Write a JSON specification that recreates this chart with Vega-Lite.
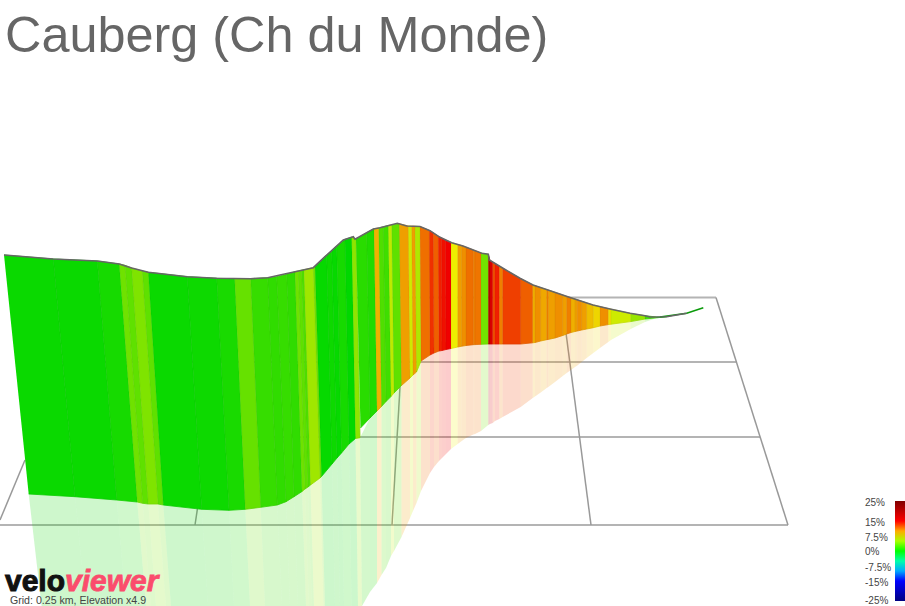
{
  "$schema": "https://vega.github.io/schema/vega-lite/v6.json",
  "autosize": {"type": "none"},
  "width": 905,
  "height": 606,
  "padding": 0,
  "background": "white",
  "config": {"view": {"stroke": null}},
  "datasets": {
    "strips": [
      {"s":1,"g":0.3,"i":[0,1,2,3],"x":[4,53.3,75,28.7],"y":[255,259,496.7,494],"fx":[28.7,75,86,41.6],"fy":[494,496.7,606,606]},
      {"s":2,"g":0.3,"i":[0,1,2,3],"x":[53.3,97.3,116.7,75],"y":[259,261,500,496.7],"fx":[75,116.7,126,86],"fy":[496.7,500,606,606]},
      {"s":3,"g":0.7,"i":[0,1,2,3],"x":[97.3,119.3,137.3,116.7],"y":[261,264,502,500],"fx":[116.7,137.3,146,126],"fy":[500,502,606,606]},
      {"s":4,"g":3.5,"i":[0,1,2,3],"x":[119.3,125,142.7,137.3],"y":[264,265.3,503.3,502],"fx":[137.3,142.7,151,146],"fy":[502,503.3,606,606]},
      {"s":5,"g":3,"i":[0,1,2,3],"x":[125,131.7,148.3,142.7],"y":[265.3,268,504,503.3],"fx":[142.7,148.3,156,151],"fy":[503.3,504,606,606]},
      {"s":6,"g":4,"i":[0,1,2,3],"x":[131.7,142.3,158,148.3],"y":[268,271,504,504],"fx":[148.3,158,166,156],"fy":[504,504,606,606]},
      {"s":7,"g":3,"i":[0,1,2,3],"x":[142.3,148.3,163.3,158],"y":[271,272.3,505,504],"fx":[158,163.3,171,166],"fy":[504,505,606,606]},
      {"s":8,"g":0.3,"i":[0,1,2,3],"x":[148.3,187.3,201.7,163.3],"y":[272.3,276.7,509.3,505],"fx":[163.3,201.7,208,171],"fy":[505,509.3,606,606]},
      {"s":9,"g":0.4,"i":[0,1,2,3],"x":[187.3,216.7,229,201.7],"y":[276.7,278.3,510.3,509.3],"fx":[201.7,229,234,208],"fy":[509.3,510.3,606,606]},
      {"s":10,"g":0.8,"i":[0,1,2,3],"x":[216.7,234.7,245.3,229],"y":[278.3,278.7,509.3,510.3],"fx":[229,245.3,250,234],"fy":[510.3,509.3,606,606]},
      {"s":11,"g":3.2,"i":[0,1,2,3],"x":[234.7,250.7,260.7,245.3],"y":[278.7,278.7,507.3,509.3],"fx":[245.3,260.7,265,250],"fy":[509.3,507.3,606,606]},
      {"s":12,"g":1.7,"i":[0,1,2,3],"x":[250.7,267.7,277.3,260.7],"y":[278.7,277.7,505,507.3],"fx":[260.7,277.3,282,265],"fy":[507.3,505,606,606]},
      {"s":13,"g":1.5,"i":[0,1,2,3],"x":[267.7,276.7,286,277.3],"y":[277.7,276.7,501.7,505],"fx":[277.3,286,290,282],"fy":[505,501.7,606,606]},
      {"s":14,"g":1.7,"i":[0,1,2,3],"x":[276.7,286.7,294,286],"y":[276.7,274.3,496.7,501.7],"fx":[286,294,298,290],"fy":[501.7,496.7,606,606]},
      {"s":15,"g":1.5,"i":[0,1,2,3],"x":[286.7,295,302,294],"y":[274.3,271.7,491.5,496.7],"fx":[294,302,306,298],"fy":[496.7,491.5,606,606]},
      {"s":16,"g":3.5,"i":[0,1,2,3],"x":[295,298.3,305,302],"y":[271.7,271,489,491.5],"fx":[302,305,309,306],"fy":[491.5,489,606,606]},
      {"s":17,"g":3,"i":[0,1,2,3],"x":[298.3,301.7,308,305],"y":[271,270.2,487,489],"fx":[305,308,312,309],"fy":[489,487,606,606]},
      {"s":18,"g":2.5,"i":[0,1,2,3],"x":[301.7,304,310.5,308],"y":[270.2,269.7,485,487],"fx":[308,310.5,314,312],"fy":[487,485,606,606]},
      {"s":19,"g":5,"i":[0,1,2,3],"x":[304,313.3,320,310.5],"y":[269.7,267.7,478,485],"fx":[310.5,320,323.5,314],"fy":[485,478,606,606]},
      {"s":20,"g":3.5,"i":[0,1,2,3],"x":[313.3,315,321.5,320],"y":[267.7,266,476.5,478],"fx":[320,321.5,325,323.5],"fy":[478,476.5,606,606]},
      {"s":21,"g":0.2,"i":[0,1,2,3],"x":[315,326.7,332,321.5],"y":[266,255,464,476.5],"fx":[321.5,332,335,325],"fy":[476.5,464,606,606]},
      {"s":22,"g":0.4,"i":[0,1,2,3],"x":[326.7,331.7,337,332],"y":[255,250.5,458,464],"fx":[332,337,340,335],"fy":[464,458,606,606]},
      {"s":23,"g":0.2,"i":[0,1,2,3],"x":[331.7,336.7,341.5,337],"y":[250.5,246,453,458],"fx":[337,341.5,344,340],"fy":[458,453,606,606]},
      {"s":24,"g":0.7,"i":[0,1,2,3],"x":[336.7,345,349,341.5],"y":[246,239.4,444,453],"fx":[341.5,349,351.5,344],"fy":[453,444,606,606]},
      {"s":25,"g":0,"i":[0,1,2,3],"x":[345,351.7,355.5,349],"y":[239.4,237.2,438.5,444],"fx":[349,355.5,358,351.5],"fy":[444,438.5,606,606]},
      {"s":26,"g":4.5,"i":[0,1,2,3],"x":[351.7,356,360,355.5],"y":[237.2,239,437.7,438.5],"fx":[355.5,360,362,358],"fy":[438.5,437.7,606,606]},
      {"s":27,"g":1.3,"i":[0,1,2,3],"x":[356,366.7,370,360.5],"y":[239,232.7,418,428],"fx":[360,370,370,362],"fy":[437.7,418,592,606]},
      {"s":28,"g":1,"i":[0,1,2,3],"x":[366.7,374,377,370],"y":[232.7,228.8,411,418],"fx":[370,377,377,370],"fy":[418,411,583,592]},
      {"s":29,"g":9.4,"i":[0,1,2,3],"x":[374,378.7,381.5,377],"y":[228.8,228,406.5,411],"fx":[377,381.5,381.5,377],"fy":[411,406.5,575,583]},
      {"s":30,"g":2.5,"i":[0,1,2,3],"x":[378.7,383.3,386,381.5],"y":[228,226.8,401.5,406.5],"fx":[381.5,386,386,381.5],"fy":[406.5,401.5,568,575]},
      {"s":31,"g":2,"i":[0,1,2,3],"x":[383.3,388.3,391,386],"y":[226.8,225.5,396.5,401.5],"fx":[386,391,391,386],"fy":[401.5,396.5,556,568]},
      {"s":32,"g":6,"i":[0,1,2,3],"x":[388.3,391.7,394,391],"y":[225.5,224.8,393,396.5],"fx":[391,394,394,391],"fy":[396.5,393,551,556]},
      {"s":33,"g":3,"i":[0,1,2,3],"x":[391.7,399.3,401.5,394],"y":[224.8,223.8,385.5,393],"fx":[394,401.5,401.5,394],"fy":[393,385.5,537,551]},
      {"s":34,"g":10,"i":[0,1,2,3],"x":[399.3,408.3,410,401.5],"y":[223.8,226,378,385.5],"fx":[401.5,410,410,401.5],"fy":[385.5,378,518,537]},
      {"s":35,"g":6.5,"i":[0,1,2,3],"x":[408.3,411.7,413,410],"y":[226,226.2,375,378],"fx":[410,413,413,410],"fy":[378,375,511,518]},
      {"s":36,"g":10,"i":[0,1,2,3],"x":[411.7,415,416.5,413],"y":[226.2,226.3,372,375],"fx":[413,416.5,416.5,413],"fy":[375,372,503,511]},
      {"s":37,"g":5.5,"i":[0,1,2,3],"x":[415,420,421,416.5],"y":[226.3,226.5,361,372],"fx":[416.5,421,421,416.5],"fy":[372,361,491,503]},
      {"s":38,"g":11.5,"i":[0,1,2,3],"x":[420,429.3,430,421],"y":[226.5,230.4,355,361],"fx":[421,430,430,421],"fy":[361,355,473,491]},
      {"s":39,"g":13.5,"i":[0,1,2,3],"x":[429.3,433.3,434,430],"y":[230.4,232.9,353,355],"fx":[430,434,434,430],"fy":[355,353,467,473]},
      {"s":40,"g":12,"i":[0,1,2,3],"x":[433.3,438.3,439,434],"y":[232.9,236.2,351,353],"fx":[434,439,439,434],"fy":[353,351,461,467]},
      {"s":41,"g":14,"i":[0,1,2,3],"x":[438.3,441.7,442,439],"y":[236.2,238,350.5,351],"fx":[439,442,442,439],"fy":[351,350.5,458,461]},
      {"s":42,"g":14.5,"i":[0,1,2,3],"x":[441.7,445.7,446,442],"y":[238,240,349.5,350.5],"fx":[442,446,446,442],"fy":[350.5,349.5,454,458]},
      {"s":43,"g":15,"i":[0,1,2,3],"x":[445.7,451,451,446],"y":[240,242.4,348.5,349.5],"fx":[446,451,451,446],"fy":[349.5,348.5,449,454]},
      {"s":44,"g":7.5,"i":[0,1,2,3],"x":[451,457.7,457.7,451],"y":[242.4,244.5,347,348.5],"fx":[451,457.7,457.7,451],"fy":[348.5,347,444,449]},
      {"s":45,"g":10,"i":[0,1,2,3],"x":[457.7,461.7,461.7,457.7],"y":[244.5,245.6,346.2,347],"fx":[457.7,461.7,461.7,457.7],"fy":[347,346.2,441,444]},
      {"s":46,"g":10.5,"i":[0,1,2,3],"x":[461.7,466,466,461.7],"y":[245.6,247.2,345.5,346.2],"fx":[461.7,466,466,461.7],"fy":[346.2,345.5,438,441]},
      {"s":47,"g":11.5,"i":[0,1,2,3],"x":[466,473.3,473.3,466],"y":[247.2,250,344.7,345.5],"fx":[466,473.3,473.3,466],"fy":[345.5,344.7,434.5,438]},
      {"s":48,"g":11,"i":[0,1,2,3],"x":[473.3,475,475,473.3],"y":[250,250.7,344.6,344.7],"fx":[473.3,475,475,473.3],"fy":[344.7,344.6,434,434.5]},
      {"s":49,"g":11.3,"i":[0,1,2,3],"x":[475,481,481,475],"y":[250.7,253,344.3,344.6],"fx":[475,481,481,475],"fy":[344.6,344.3,431,434]},
      {"s":50,"g":3.6,"i":[0,1,2,3],"x":[481,488.3,488.3,481],"y":[253,254.3,344,344.3],"fx":[481,488.3,488.3,481],"fy":[344.3,344,425,431]},
      {"s":51,"g":20,"i":[0,1,2,3],"x":[488.3,490,490,488.3],"y":[254.3,260.4,344,344],"fx":[488.3,490,490,488.3],"fy":[344,344,424,425]},
      {"s":52,"g":17,"i":[0,1,2,3],"x":[490,492.7,492.7,490],"y":[260.4,262,344,344],"fx":[490,492.7,492.7,490],"fy":[344,344,423,424]},
      {"s":53,"g":12.5,"i":[0,1,2,3],"x":[492.7,495,495,492.7],"y":[262,263.5,344,344],"fx":[492.7,495,495,492.7],"fy":[344,344,421,423]},
      {"s":54,"g":14,"i":[0,1,2,3],"x":[495,499.3,499.3,495],"y":[263.5,266,344,344],"fx":[495,499.3,499.3,495],"fy":[344,344,419,421]},
      {"s":55,"g":11,"i":[0,1,2,3],"x":[499.3,502.7,502.7,499.3],"y":[266,268.2,344,344],"fx":[499.3,502.7,502.7,499.3],"fy":[344,344,417,419]},
      {"s":56,"g":13,"i":[0,1,2,3],"x":[502.7,520.7,520.7,502.7],"y":[268.2,278.7,344,344],"fx":[502.7,520.7,520.7,502.7],"fy":[344,344,407,417]},
      {"s":57,"g":12,"i":[0,1,2,3],"x":[520.7,532.7,532.7,520.7],"y":[278.7,284.9,342.8,344],"fx":[520.7,532.7,532.7,520.7],"fy":[344,342.8,398,407]},
      {"s":58,"g":9.5,"i":[0,1,2,3],"x":[532.7,535,535,532.7],"y":[284.9,285.7,342.5,342.8],"fx":[532.7,535,535,532.7],"fy":[342.8,342.5,396.5,398]},
      {"s":59,"g":10.5,"i":[0,1,2,3],"x":[535,540.7,540.7,535],"y":[285.7,287.6,341,342.5],"fx":[535,540.7,540.7,535],"fy":[342.5,341,392.5,396.5]},
      {"s":60,"g":9.7,"i":[0,1,2,3],"x":[540.7,546.7,546.7,540.7],"y":[287.6,289.6,339.7,341],"fx":[540.7,546.7,546.7,540.7],"fy":[341,339.7,388,392.5]},
      {"s":61,"g":11,"i":[0,1,2,3],"x":[546.7,548.3,548.3,546.7],"y":[289.6,290.1,339.4,339.7],"fx":[546.7,548.3,548.3,546.7],"fy":[339.7,339.4,387,388]},
      {"s":62,"g":10,"i":[0,1,2,3],"x":[548.3,555,555,548.3],"y":[290.1,292.4,338,339.4],"fx":[548.3,555,555,548.3],"fy":[339.4,338,382,387]},
      {"s":63,"g":10.5,"i":[0,1,2,3],"x":[555,562.7,562.7,555],"y":[292.4,295,335.5,338],"fx":[555,562.7,562.7,555],"fy":[338,335.5,376,382]},
      {"s":64,"g":10,"i":[0,1,2,3],"x":[562.7,566.7,566.7,562.7],"y":[295,296.4,334,335.5],"fx":[562.7,566.7,566.7,562.7],"fy":[335.5,334,373,376]},
      {"s":65,"g":11,"i":[0,1,2,3],"x":[566.7,571,571,566.7],"y":[296.4,297.8,332.5,334],"fx":[566.7,571,571,566.7],"fy":[334,332.5,370,373]},
      {"s":66,"g":9.5,"i":[0,1,2,3],"x":[571,575,575,571],"y":[297.8,299,331.5,332.5],"fx":[571,575,575,571],"fy":[332.5,331.5,367,370]},
      {"s":67,"g":10,"i":[0,1,2,3],"x":[575,577.3,577.3,575],"y":[299,299.8,331,331.5],"fx":[575,577.3,577.3,575],"fy":[331.5,331,365.5,367]},
      {"s":68,"g":10.5,"i":[0,1,2,3],"x":[577.3,581.7,581.7,577.3],"y":[299.8,301.2,330,331],"fx":[577.3,581.7,581.7,577.3],"fy":[331,330,362,365.5]},
      {"s":69,"g":10,"i":[0,1,2,3],"x":[581.7,586.7,586.7,581.7],"y":[301.2,303,329,330],"fx":[581.7,586.7,586.7,581.7],"fy":[330,329,358,362]},
      {"s":70,"g":9,"i":[0,1,2,3],"x":[586.7,593.3,593.3,586.7],"y":[303,305,327.7,329],"fx":[586.7,593.3,593.3,586.7],"fy":[329,327.7,353,358]},
      {"s":71,"g":8.3,"i":[0,1,2,3],"x":[593.3,600,600,593.3],"y":[305,306.7,326,327.7],"fx":[593.3,600,600,593.3],"fy":[327.7,326,348,353]},
      {"s":72,"g":10.5,"i":[0,1,2,3],"x":[600,608.3,608.3,600],"y":[306.7,308.6,324.6,326],"fx":[600,608.3,608.3,600],"fy":[326,324.6,342,348]},
      {"s":73,"g":8,"i":[0,1,2,3],"x":[608.3,611,611,608.3],"y":[308.6,309.2,324.2,324.6],"fx":[608.3,611,611,608.3],"fy":[324.6,324.2,340,342]},
      {"s":74,"g":6.5,"i":[0,1,2,3],"x":[611,630.7,630.7,611],"y":[309.2,313.4,321.6,324.2],"fx":[611,630.7,630.7,611],"fy":[324.2,321.6,329,340]},
      {"s":75,"g":4.8,"i":[0,1,2,3],"x":[630.7,645,645,630.7],"y":[313.4,315.7,319,321.6],"fx":[630.7,645,645,630.7],"fy":[321.6,319,322,329]},
      {"s":76,"g":2,"i":[0,1,2,3],"x":[645,656.7,656.7,645],"y":[315.7,317,317.8,319],"fx":[645,656.7,656.7,645],"fy":[319,317.8,318,322]},
      {"s":77,"g":0.5,"i":[0,1,2,3],"x":[656.7,666.7,666.7,656.7],"y":[317,316.7,316.7,317.8],"fx":[656.7,666.7,666.7,656.7],"fy":[317.8,316.7,316.7,318]}
    ],
    "profile": [
      {"x":4,"y":255},{"x":53.3,"y":259},{"x":97.3,"y":261},{"x":119.3,"y":264},{"x":131.7,"y":268},{"x":148.3,"y":272.3},{"x":187.3,"y":276.7},{"x":216.7,"y":278.3},{"x":250.7,"y":278.7},{"x":267.7,"y":277.7},{"x":280,"y":275},{"x":295,"y":271.7},{"x":313.3,"y":267.7},{"x":325,"y":256.7},{"x":343.3,"y":240},{"x":353.3,"y":236.7},{"x":355,"y":239.3},{"x":373.3,"y":229},{"x":380,"y":227.7},{"x":397.3,"y":223.3},{"x":406.7,"y":226},{"x":420,"y":226.5},{"x":430,"y":230.7},{"x":440,"y":237.3},{"x":451.7,"y":242.7},{"x":463,"y":246},{"x":481.7,"y":253.3},{"x":488.3,"y":254.3},{"x":489.3,"y":260},{"x":503,"y":268.3},{"x":520,"y":278.3},{"x":533,"y":285},{"x":548,"y":290},{"x":570,"y":297.5},{"x":593,"y":305},{"x":610,"y":309},{"x":630,"y":313.3},{"x":645,"y":315.7},{"x":650,"y":317},{"x":666.7,"y":316.7},{"x":686.7,"y":313.3}
    ],
    "grid": [
      {"l":"h1","x":0,"y":525},{"l":"h1","x":788,"y":525},
      {"l":"h2","x":30,"y":437},{"l":"h2","x":760,"y":437},
      {"l":"h3","x":50,"y":362},{"l":"h3","x":737,"y":362},
      {"l":"h4","x":100,"y":297.5},{"l":"h4","x":716,"y":297.5}
    ],
    "depth": [
      {"l":"d1","x":716,"y":297.5},{"l":"d1","x":788,"y":525},
      {"l":"d2","x":566,"y":333},{"l":"d2","x":591,"y":525},
      {"l":"d3","x":400,"y":387},{"l":"d3","x":392,"y":525},
      {"l":"d4","x":198,"y":505},{"l":"d4","x":195,"y":525},
      {"l":"d5","x":25,"y":460},{"l":"d5","x":0,"y":520}
    ]
  },
  "encoding": {
    "x": {"field": "x", "type": "quantitative", "scale": {"domain": [0, 905], "nice": false, "zero": false}, "axis": null},
    "y": {"field": "y", "type": "quantitative", "scale": {"domain": [606, 0], "nice": false, "zero": false}, "axis": null}
  },
  "layer": [
    {
      "data": {"name": "grid"},
      "mark": {"type": "line", "color": "#b4b4b4", "strokeWidth": 2},
      "encoding": {"detail": {"field": "l"}}
    },
    {
      "data": {"name": "depth"},
      "mark": {"type": "line", "color": "#999999", "strokeWidth": 1.5},
      "encoding": {"detail": {"field": "l"}}
    },
    {
      "data": {"name": "strips"},
      "transform": [{"flatten": ["fx", "fy", "i"], "as": ["x", "y", "i"]}],
      "mark": {"type": "line", "strokeWidth": 0, "fillOpacity": 0.2, "clip": true},
      "encoding": {
        "detail": {"field": "s"},
        "order": {"field": "i", "type": "quantitative"},
        "fill": {"field": "g", "type": "quantitative", "legend": null,
          "scale": {"domain": [-25, 0, 7.5, 15, 25], "range": ["#000080", "#00d800", "#eeee00", "#f00000", "#800000"], "interpolate": "rgb"}}
      }
    },
    {
      "data": {"name": "strips"},
      "transform": [{"flatten": ["x", "y", "i"]}],
      "mark": {"type": "line", "strokeWidth": 0.8},
      "encoding": {
        "detail": {"field": "s"},
        "order": {"field": "i", "type": "quantitative"},
        "fill": {"field": "g", "type": "quantitative", "legend": null,
          "scale": {"domain": [-25, 0, 7.5, 15, 25], "range": ["#000080", "#00d800", "#eeee00", "#f00000", "#800000"], "interpolate": "rgb"}},
        "stroke": {"field": "g", "type": "quantitative", "legend": null,
          "scale": {"domain": [-25, 0, 7.5, 15, 25], "range": ["#000080", "#00d800", "#eeee00", "#f00000", "#800000"], "interpolate": "rgb"}}
      }
    },
    {
      "data": {"name": "strips"},
      "transform": [{"flatten": ["x", "y", "i"]}],
      "mark": {"type": "line", "stroke": "#000000", "strokeWidth": 0.5, "strokeOpacity": 0.1},
      "encoding": {
        "detail": {"field": "s"},
        "order": {"field": "i", "type": "quantitative"}
      }
    },
    {
      "data": {"values": [{"x":660,"y":317},{"x":686.7,"y":313.3},{"x":703.3,"y":307.7}]},
      "mark": {"type": "line", "color": "#0a9a0a", "strokeWidth": 1.5}
    },
    {
      "data": {"name": "profile"},
      "mark": {"type": "line", "color": "#666666", "strokeWidth": 1.6}
    },
    {
      "data": {"values": [{"x":5,"y":52,"t":"Cauberg (Ch du Monde)"}]},
      "mark": {"type": "text", "font": "Liberation Sans", "fontSize": 50.4, "align": "left", "baseline": "alphabetic", "color": "#666666"},
      "encoding": {"text": {"field": "t"}}
    },
    {
      "data": {"values": [{"x":5,"y":591,"t":"velo"}]},
      "mark": {"type": "text", "font": "Liberation Sans", "fontSize": 30, "fontWeight": "bold", "align": "left", "baseline": "alphabetic", "color": "#111111", "stroke": "#111111", "strokeWidth": 1},
      "encoding": {"text": {"field": "t"}}
    },
    {
      "data": {"values": [{"x":65,"y":591,"t":"viewer"}]},
      "mark": {"type": "text", "font": "Liberation Sans", "fontSize": 30, "fontWeight": "bold", "fontStyle": "italic", "align": "left", "baseline": "alphabetic", "color": "#fb4c6c", "stroke": "#fb4c6c", "strokeWidth": 0.8},
      "encoding": {"text": {"field": "t"}}
    },
    {
      "data": {"values": [{"x":10,"y":604,"t":"Grid: 0.25 km, Elevation x4.9"}]},
      "mark": {"type": "text", "font": "Liberation Sans", "fontSize": 10.6, "align": "left", "baseline": "alphabetic", "color": "#444444"},
      "encoding": {"text": {"field": "t"}}
    },
    {
      "data": {"values": [
        {"x":865,"y":503,"t":"25%"},{"x":865,"y":522.7,"t":"15%"},{"x":865,"y":537.7,"t":"7.5%"},{"x":865,"y":552.3,"t":"0%"},
        {"x":865,"y":567.7,"t":"-7.5%"},{"x":865,"y":582.7,"t":"-15%"},{"x":865,"y":600.5,"t":"-25%"}
      ]},
      "mark": {"type": "text", "font": "Liberation Sans", "fontSize": 10, "align": "left", "baseline": "middle", "color": "#444444"},
      "encoding": {"text": {"field": "t"}}
    },
    {
      "data": {"values": [{"x":-50,"y":-50,"g":0}]},
      "mark": {"type": "point", "size": 0, "opacity": 1, "clip": true},
      "encoding": {
        "color": {"field": "g", "type": "quantitative",
          "scale": {"domain": [-25, -15, -7.5, 0, 7.5, 15, 25], "range": ["#000080", "#0000ff", "#00ffff", "#00ff00", "#ffff00", "#ff0000", "#800000"], "interpolate": "rgb"},
          "legend": {
            "title": null, "orient": "none", "legendX": 895, "legendY": 501, "padding": 0,
            "gradientLength": 100, "gradientThickness": 10, "gradientStrokeWidth": 0,
            "values": [], "labelFontSize": 0
          }
        }
      }
    }
  ]
}
